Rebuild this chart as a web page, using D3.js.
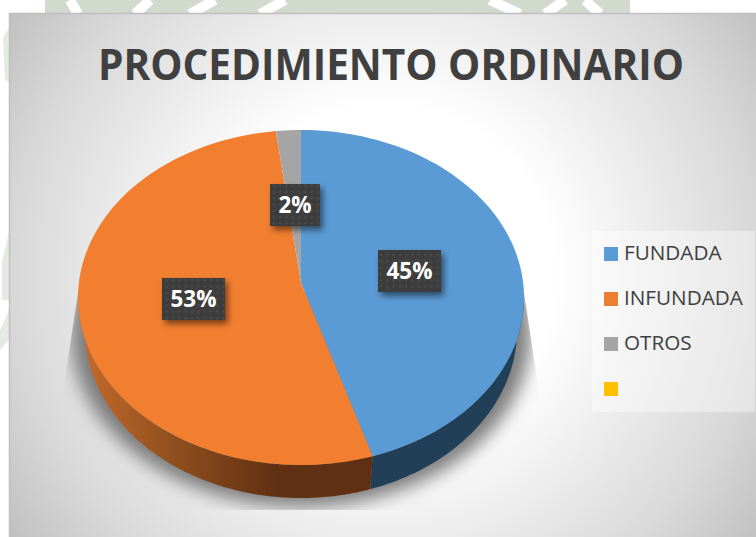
<!DOCTYPE html>
<html><head><meta charset="utf-8">
<script src="https://cdn.jsdelivr.net/npm/d3@7"></script>
<style>html,body{margin:0;padding:0;background:#fff;overflow:hidden}svg{display:block}</style>
</head><body><div id="c"></div>
<script>
const titleText = "PROCEDIMIENTO ORDINARIO";
const categories = ["FUNDADA","INFUNDADA","OTROS",""];
const values = [44.8,53.4,1.8,0];
const colors = ["#5b9bd5","#f27f30","#a5a5a5","#ffc000"];
const legendColors = ["#5b9bd5","#ed7d31","#a5a5a5","#ffc000"];
const labels = ["45%","53%","2%"];
const labelCenters = [[409.5,271],[193.5,299],[295,205]];
const W=756,H=537, FONT="'Open Sans', sans-serif";
const cx=301, cy=297.5, rx=223, ry=167.5, apexY=283;
const cyB=330, rxB=216, ryB=168;

const svg=d3.select("#c").append("svg").attr("width",W).attr("height",H);
const defs=svg.append("defs");
const bg=defs.append("radialGradient").attr("id","bg").attr("gradientUnits","userSpaceOnUse")
  .attr("cx",385).attr("cy",275).attr("r",470);
[[0,"#ffffff"],[.36,"#ffffff"],[.78,"#d9d9d9"],[1,"#bdbdbd"]].forEach(s=>bg.append("stop").attr("offset",s[0]).attr("stop-color",s[1]));
const side=defs.append("linearGradient").attr("id","orangeSide").attr("gradientUnits","userSpaceOnUse")
  .attr("x1",cx-rx+5).attr("x2",cx+10).attr("y1",0).attr("y2",0);
[[0,"#c46a2a"],[.4,"#8f4f1e"],[.85,"#613012"],[1,"#613012"]].forEach(s=>side.append("stop").attr("offset",s[0]).attr("stop-color",s[1]));
defs.append("filter").attr("id","blur").attr("x","-20%").attr("y","-20%").attr("width","140%").attr("height","140%")
  .append("feGaussianBlur").attr("stdDeviation",9);
const ds=defs.append("filter").attr("id","ls").attr("x","-30%").attr("y","-30%").attr("width","170%").attr("height","170%");
ds.append("feDropShadow").attr("dx",3).attr("dy",4).attr("stdDeviation",3).attr("flood-color","#000").attr("flood-opacity",.5);
const pat=defs.append("pattern").attr("id","dots").attr("patternUnits","userSpaceOnUse").attr("width",6.3).attr("height",6.3);
pat.append("rect").attr("width",6.3).attr("height",6.3).attr("fill","#3e3e3e");
pat.append("circle").attr("cx",3).attr("cy",3).attr("r",1).attr("fill","#525252");
defs.append("clipPath").attr("id","sc").append("path")
  .attr("d",`M${cx-rx},${cy-5} L${cx-rx-15},${cy+95} V${cy+212.5} H${cx+rx+15} V${cy+95} L${cx+rx},${cy-5} Z`);

// watermark behind chart
const wmFill="#d2d9cd";
svg.append("rect").attr("x",45).attr("y",0).attr("width",585).attr("height",14).attr("fill",wmFill);
const wmGaps=[[[78,14],[70,0]],[[135,14],[150,0]],[[190,14],[215,0]],[[260,14],[285,0]],[[490,0],[520,14]],[[545,14],[565,0]],[[585,0],[600,14]]];
wmGaps.forEach(l=>svg.append("line").attr("x1",l[0][0]).attr("y1",l[0][1]).attr("x2",l[1][0]).attr("y2",l[1][1]).attr("stroke","#fff").attr("stroke-width",10));
svg.append("path").attr("d","M9,28 L3,38 L5,80 L9,82 Z M9,232 L2,262 L2,300 L9,300 Z M9,310 L0,330 L0,350 L9,340 Z").attr("fill",wmFill).attr("opacity",.55);

svg.append("rect").attr("x",9.5).attr("y",13.5).attr("width",W).attr("height",H).attr("fill","url(#bg)").attr("stroke","#c0c0c0").attr("stroke-width",1.5);

svg.append("g").attr("clip-path","url(#sc)").append("ellipse")
  .attr("cx",cx).attr("cy",cyB+4).attr("rx",rxB+14).attr("ry",ryB+5).attr("fill","#7c7c7c").attr("filter","url(#blur)");

const pie=d3.pie().sort(null).value(d=>d);
const arcs=pie(values);
const ex=a=>cx+rx*Math.sin(a), ey=a=>cy-ry*Math.cos(a);
const bx=a=>cx+rxB*Math.sin(a), by=a=>cyB-ryB*Math.cos(a);
const sweep=(a0,a1)=>d3.range(0,91).map(k=>a0+(a1-a0)*k/90);

// side walls, visible for the lower half of the rim
const sideFill=["#223f58","url(#orangeSide)","#666"];
arcs.slice(0,3).forEach((d,i)=>{
  const a0=Math.max(d.startAngle,Math.PI/2), a1=Math.min(d.endAngle,3*Math.PI/2);
  if(a1<=a0) return;
  const as=sweep(a0,a1);
  const top=as.map(a=>[ex(a),ey(a)]), bot=as.map(a=>[bx(a),by(a)]).reverse();
  svg.append("path").attr("d",d3.line()(top.concat(bot))+"Z").attr("fill",sideFill[i]);
});

// top face: slices meet at the apex, raised by the perspective
svg.append("g").selectAll("path").data(arcs.slice(0,3)).join("path")
  .attr("d",d=>d3.line()([[cx,apexY],...sweep(d.startAngle,d.endAngle).map(a=>[ex(a),ey(a)])])+"Z")
  .attr("fill",(d,i)=>colors[i]);

svg.append("text").attr("x",391).attr("y",80).attr("text-anchor","middle").attr("font-family",FONT)
  .attr("font-weight",700).attr("font-size",43).attr("fill","#404040").attr("textLength",586).attr("lengthAdjust","spacingAndGlyphs").text(titleText);

// data labels
labels.forEach((t,i)=>{
  const [x,y]=labelCenters[i], w=t.length>2?63:50, h=42;
  svg.append("rect").attr("x",x-w/2).attr("y",y-h/2).attr("width",w).attr("height",h).attr("fill","url(#dots)").attr("filter","url(#ls)");
  svg.append("text").attr("x",x).attr("y",y+8).attr("text-anchor","middle").attr("font-family",FONT)
    .attr("font-weight",700).attr("font-size",22.5).attr("fill","#fff").text(t);
});

// legend
svg.append("rect").attr("x",592).attr("y",231).attr("width",163).attr("height",181).attr("fill","#fff").attr("fill-opacity",.4);
const ly=d3.scalePoint().domain(d3.range(4)).range([254,389]);
categories.forEach((c,i)=>{
  svg.append("rect").attr("x",604).attr("y",ly(i)-7).attr("width",14).attr("height",14).attr("fill",legendColors[i]);
  svg.append("text").attr("x",624).attr("y",ly(i)+6).attr("font-family",FONT).attr("font-size",20.7).attr("fill","#404040").text(c);
});
</script></body></html>
